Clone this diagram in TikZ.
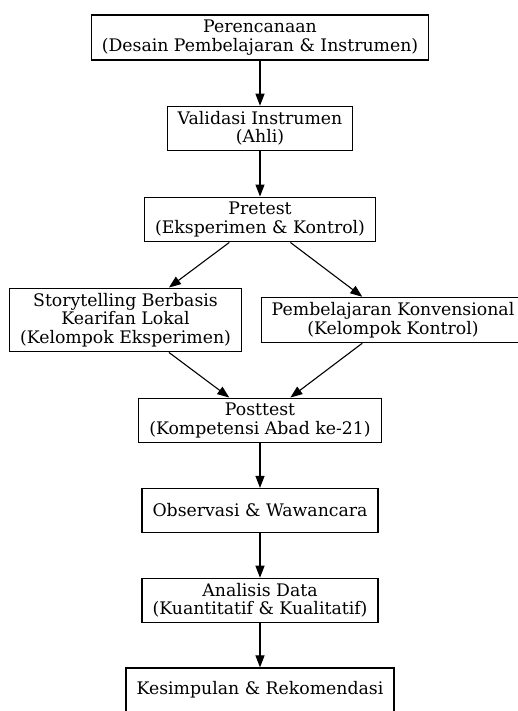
\documentclass[tikz,border=0pt]{standalone}
\usepackage{fontspec}
\setmainfont{DejaVu Serif}
\usetikzlibrary{arrows.meta}
\begin{document}
\begin{tikzpicture}[x=1pt, y=-1pt, every node/.style={fill=white},
    n/.style={rectangle, draw, line width=1.2pt, align=center,
        font=\fontsize{17.3}{18.5}\selectfont, inner xsep=10.5pt,
        inner ysep=5pt, minimum height=44pt},
    pijl/.style={-{Triangle[length=12pt, width=9pt]}, line width=1.1pt}]
        \useasboundingbox (0, 0) rectangle (518, 711);

        \node[n] (plan) at (260, 37.5) {Perencanaan\\(Desain Pembelajaran \& Instrumen)};
        \node[n] (valid) at (260, 128.5) {Validasi Instrumen\\(Ahli)};
        \node[n] (pre) at (260, 219.5) {Pretest\\(Eksperimen \& Kontrol)};
        \node[n] (eks) at (125.5, 320) {Storytelling Berbasis\\Kearifan Lokal\\(Kelompok Eksperimen)};
        \node[n] (kon) at (393, 320) {Pembelajaran Konvensional\\(Kelompok Kontrol)};
        \node[n] (post) at (260, 420.5) {Posttest\\(Kompetensi Abad ke-21)};
        \node[n] (obs) at (260, 510.5) {Observasi \& Wawancara};
        \node[n] (ana) at (260, 600.5) {Analisis Data\\(Kuantitatif \& Kualitatif)};
        \node[n] (kes) at (260, 690) {Kesimpulan \& Rekomendasi};

        \draw[pijl] (plan) edge (valid);
        \draw[pijl] (valid) edge (pre);
        \draw[pijl] (pre) edge (eks);
        \draw[pijl] (pre) edge (kon);
        \draw[pijl] (eks) edge (post);
        \draw[pijl] (kon) edge (post);
        \draw[pijl] (post) edge (obs);
        \draw[pijl] (obs) edge (ana);
        \draw[pijl] (ana) edge (kes);
    \end{tikzpicture}
\end{document}
